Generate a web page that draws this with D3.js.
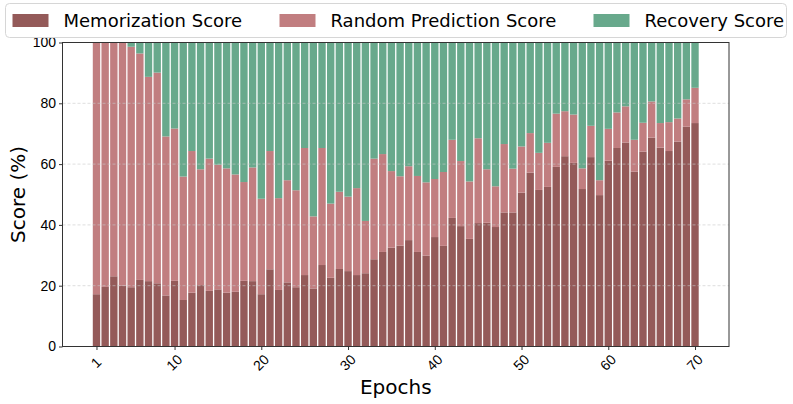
<!DOCTYPE html>
<html>
<head>
<meta charset="utf-8">
<script src="https://cdn.jsdelivr.net/npm/d3@7"></script>
<style>
  body { margin: 0; background: #fff; }
  svg { display: block; font-family: "DejaVu Sans", sans-serif; }
  .axis path, .axis line { stroke: #333; }
  .axis text { font-size: 14px; fill: #000; }
</style>
</head>
<body>
<div id="chart"></div>
<script>
const epochs = d3.range(1, 71);
const memorization = [
  17.2, 19.6, 23.1, 20.0, 19.5, 21.9, 21.5, 20.8, 16.8, 21.6,
  15.3, 17.7, 20.2, 18.3, 18.8, 17.7, 18.0, 21.6, 21.5, 17.2,
  25.4, 18.6, 21.1, 19.5, 23.5, 19.1, 26.8, 22.6, 25.5, 24.8,
  23.5, 24.1, 28.7, 31.1, 32.5, 33.2, 35.0, 31.1, 29.9, 36.0,
  33.1, 42.3, 39.6, 35.4, 40.6, 40.7, 39.3, 44.1, 44.1, 50.6,
  57.2, 51.5, 52.5, 59.1, 62.6, 60.4, 51.8, 62.3, 49.8, 61.1,
  65.3, 67.1, 57.5, 64.1, 68.7, 65.4, 64.3, 67.4, 72.3, 73.5,
];
const randomPrediction = [
  82.8, 80.4, 76.9, 80.0, 79.1, 74.5, 67.2, 69.3, 52.3, 50.1,
  40.6, 46.6, 38.1, 43.5, 41.0, 40.9, 38.6, 32.5, 37.4, 31.4,
  38.9, 30.2, 33.6, 31.9, 41.8, 23.7, 38.5, 24.4, 25.4, 24.5,
  28.6, 17.2, 33.1, 32.2, 25.2, 22.8, 24.3, 25.0, 24.1, 19.1,
  24.3, 25.7, 21.4, 18.9, 27.9, 17.6, 13.4, 22.5, 14.4, 15.2,
  13.0, 12.2, 14.5, 17.5, 14.8, 15.9, 6.8, 10.3, 4.9, 10.5,
  11.7, 11.9, 10.5, 9.5, 11.9, 8.1, 9.5, 7.6, 9.0, 11.6,
];
const recovery = [
  0.0, 0.0, 0.0, 0.0, 1.4, 3.6, 11.3, 9.9, 30.9, 28.3,
  44.1, 35.7, 41.7, 38.2, 40.2, 41.4, 43.4, 45.9, 41.1, 51.4,
  35.7, 51.2, 45.3, 48.6, 34.7, 57.2, 34.7, 53.0, 49.1, 50.7,
  47.9, 58.7, 38.2, 36.7, 42.3, 44.0, 40.7, 43.9, 46.0, 44.9,
  42.6, 32.0, 39.0, 45.7, 31.5, 41.7, 47.3, 33.4, 41.5, 34.2,
  29.8, 36.3, 33.0, 23.4, 22.6, 23.7, 41.4, 27.4, 45.3, 28.4,
  23.0, 21.0, 32.0, 26.4, 19.4, 26.5, 26.2, 25.0, 18.7, 14.9,
];
const seriesNames = ['Memorization Score', 'Random Prediction Score', 'Recovery Score'];
const colors = ['#945a59', '#c17e80', '#68a98c'];
const xTicks = [1, 10, 20, 30, 40, 50, 60, 70];
const yTicks = [0, 20, 40, 60, 80, 100];

const canvasWidth = 793;
const canvasHeight = 404;
const margins = { top: 42.5, right: 64, bottom: 57.5, left: 62.5 };
const width = canvasWidth - margins.left - margins.right;
const height = canvasHeight - margins.top - margins.bottom;
const barWidth = 0.85;

const rows = epochs.map((e, i) => ({
  epoch: e,
  mem: memorization[i],
  rand: randomPrediction[i],
  rec: recovery[i],
}));
const keys = ['mem', 'rand', 'rec'];
const stacked = d3.stack().keys(keys)(rows);

const svg = d3.select('#chart')
  .append('svg')
    .attr('width', canvasWidth)
    .attr('height', canvasHeight);

const chart = svg.append('g')
  .attr('transform', `translate(${margins.left}, ${margins.top})`);

// matplotlib-like auto margins around the bars
const lo = d3.min(epochs) - barWidth / 2;
const hi = d3.max(epochs) + barWidth / 2;
const pad = (hi - lo) * 0.05;
const scaleX = d3.scaleLinear().domain([lo - pad, hi + pad]).range([0, width]);
const scaleY = d3.scaleLinear().domain([0, 100]).range([height, 0]);

// bars
chart.append('g')
  .selectAll('g')
  .data(stacked)
  .join('g')
    .attr('fill', (d, i) => colors[i])
  .selectAll('rect')
  .data(d => d)
  .join('rect')
    .attr('x', d => scaleX(d.data.epoch - barWidth / 2))
    .attr('width', scaleX(barWidth) - scaleX(0))
    .attr('y', d => scaleY(d[1]))
    .attr('height', d => scaleY(d[0]) - scaleY(d[1]));

// grid
chart.append('g')
  .selectAll('line')
  .data(yTicks.slice(1, -1))
  .join('line')
    .attr('x1', 0)
    .attr('x2', width)
    .attr('y1', d => scaleY(d))
    .attr('y2', d => scaleY(d))
    .attr('stroke', '#c8c8c8')
    .attr('stroke-opacity', 0.75)
    .attr('stroke-width', 0.8)
    .attr('stroke-dasharray', '3,2');

// axes
const axisY = d3.axisLeft(scaleY).tickValues(yTicks).tickSize(3.5).tickPadding(3);
chart.append('g')
  .attr('class', 'axis')
  .call(axisY)
  .call(g => g.select('.domain').remove());

const axisX = d3.axisBottom(scaleX).tickValues(xTicks).tickSize(3.5).tickFormat(d3.format('d'));
chart.append('g')
  .attr('class', 'axis')
  .attr('transform', `translate(0, ${height})`)
  .call(axisX)
  .call(g => g.select('.domain').remove())
  .selectAll('.tick text')
    .attr('y', 0)
    .attr('dy', 0)
    .attr('text-anchor', 'middle')
    .attr('transform', 'translate(0, 17) rotate(-45)')
    .attr('dominant-baseline', 'middle');

// frame
chart.append('rect')
  .attr('width', width)
  .attr('height', height)
  .attr('fill', 'none')
  .attr('stroke', '#333')
  .attr('stroke-width', 1);

// labels
svg.append('text')
  .attr('x', margins.left + width / 2)
  .attr('y', 394)
  .attr('text-anchor', 'middle')
  .style('font-size', '20px')
  .text('Epochs');

svg.append('text')
  .attr('transform', `translate(25, ${margins.top + height / 2}) rotate(-90)`)
  .attr('text-anchor', 'middle')
  .style('font-size', '20px')
  .text('Score (%)');

// legend
const legend = svg.append('g');
legend.append('rect')
  .attr('x', 5.5)
  .attr('y', 3.5)
  .attr('width', 781)
  .attr('height', 34)
  .attr('rx', 4)
  .attr('fill', '#fff')
  .attr('fill-opacity', 0.8)
  .attr('stroke', '#d6d6d6');

const legendX = [12.5, 279.5, 593.5];
const items = legend.selectAll('.item')
  .data(seriesNames)
  .join('g')
    .attr('class', 'item')
    .attr('transform', (d, i) => `translate(${legendX[i]}, 0)`);

items.append('rect')
  .attr('y', 14)
  .attr('width', 36)
  .attr('height', 13)
  .attr('fill', (d, i) => colors[i]);

items.append('text')
  .attr('x', 51)
  .attr('y', 27)
  .style('font-size', '18px')
  .text(d => d);
</script>
</body>
</html>
